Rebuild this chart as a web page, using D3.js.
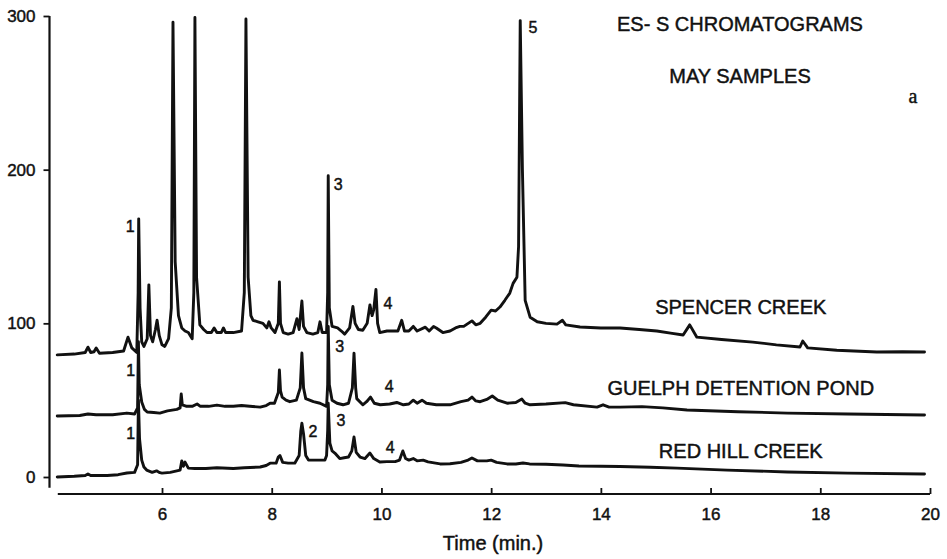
<!DOCTYPE html>
<html>
<head>
<meta charset="utf-8">
<script src="https://cdn.jsdelivr.net/npm/d3@7"></script>
<style>
  body { margin: 0; background: #fff; }
  svg { display: block; }
  text { font-family: "Liberation Sans", Arial, Helvetica, sans-serif; fill: #111; stroke: #111; stroke-width: 0.45px; }
</style>
</head>
<body>
<svg id="chart" width="947" height="559"></svg>
<script>
// [time (min), signal]
var spencerCreek = [
  [4.09,79.5],[4.4,80],[4.6,81],[4.65,84.5],[4.7,81],[4.76,81.5],[4.8,84],[4.86,80.5],[5.1,81],[5.3,82],
  [5.38,91],[5.45,84],[5.54,81],[5.565,120],[5.575,168],[5.6,110],[5.63,88],[5.67,85],[5.73,90],[5.76,125],
  [5.79,92],[5.83,88],[5.88,96],[5.91,102],[5.95,92],[6.0,86],[6.05,85],[6.12,90],[6.17,110],[6.2,296],
  [6.24,140],[6.3,105],[6.36,97],[6.42,95],[6.48,94],[6.55,90],[6.58,120],[6.6,299],[6.63,130],[6.69,99],
  [6.76,96],[6.82,94],[6.9,94],[6.95,97],[7.0,94],[7.08,94],[7.12,97],[7.16,94],[7.3,94],[7.45,95],
  [7.5,120],[7.53,298],[7.57,130],[7.62,105],[7.66,102],[7.75,101],[7.84,100],[7.91,97],[7.95,101],[7.99,97],
  [8.06,94],[8.12,100],[8.14,127],[8.16,100],[8.21,94],[8.3,93],[8.39,94],[8.46,103],[8.5,96],[8.55,114.5],
  [8.58,98],[8.64,94],[8.75,93],[8.84,94],[8.88,101],[8.92,94],[9.0,94],[9.02,120],[9.03,196],[9.05,110],
  [9.1,98],[9.2,97],[9.27,95],[9.33,93],[9.42,97],[9.48,111],[9.52,100],[9.58,96],[9.66,95.5],[9.74,100],
  [9.79,112],[9.83,105],[9.86,109],[9.9,122],[9.93,100],[9.97,94],[10.1,95],[10.16,95],[10.3,95],[10.37,102],
  [10.42,95],[10.5,95],[10.58,98],[10.65,95],[10.8,97.5],[10.87,95],[10.95,98],[11.0,97],[11.12,94],[11.25,95],
  [11.35,97],[11.43,98],[11.5,98],[11.65,101.6],[11.72,99],[11.8,100],[11.9,104],[12.0,108.6],[12.08,108],[12.16,110.6],
  [12.25,115],[12.34,119.7],[12.4,126],[12.47,130],[12.5,150],[12.53,297],[12.57,200],[12.62,115],[12.71,104],[12.84,101],
  [13.0,100],[13.2,99.5],[13.3,102],[13.36,99],[13.62,97.6],[14.0,97],[14.35,97],[14.7,96],[15.02,95],[15.3,93.5],
  [15.5,92.4],[15.62,99],[15.75,91],[16.2,89.5],[16.77,87.8],[17.2,86],[17.63,84.6],[17.68,88.5],[17.77,84],[18.3,82.5],
  [19.03,81.3],[19.5,81.5],[19.9,81.3]
];

var guelphPond = [
  [4.09,39.7],[4.5,40],[4.65,41],[4.8,40.5],[5.1,40.5],[5.36,41.6],[5.5,41],[5.555,45],[5.57,88],[5.585,60],
  [5.63,48.8],[5.68,44],[5.73,42.3],[5.85,42],[5.96,41.6],[6.1,43],[6.27,44],[6.33,45],[6.35,54],[6.37,47],
  [6.45,46],[6.55,46],[6.64,47.5],[6.7,46],[6.85,46],[7.0,46.8],[7.15,46],[7.3,46],[7.45,46.5],[7.6,46],
  [7.79,45.5],[7.9,46.5],[7.97,48],[8.05,48],[8.12,55],[8.14,69.6],[8.16,56],[8.19,52],[8.26,50],[8.33,49],
  [8.45,50],[8.52,58],[8.55,80.7],[8.58,58],[8.62,51],[8.76,49],[8.88,48],[9.0,46],[9.02,60],[9.03,98],
  [9.05,60],[9.1,50],[9.19,48],[9.3,47],[9.4,48],[9.47,58],[9.5,80.6],[9.53,58],[9.55,51],[9.66,47],
  [9.73,49],[9.8,52],[9.87,48],[9.98,47],[10.15,47.5],[10.28,48.5],[10.4,47],[10.5,47.5],[10.58,50],[10.65,48],
  [10.74,50],[10.82,48],[11.0,47],[11.25,47],[11.45,49],[11.58,50],[11.65,52],[11.72,49.5],[11.8,49],[11.92,50.5],
  [12.02,52.7],[12.12,50],[12.29,48],[12.45,48.5],[12.56,50.7],[12.62,48],[12.71,47],[13.0,47.5],[13.35,48.4],[13.5,47],
  [13.93,45.5],[14.04,47],[14.15,45.5],[14.35,45.5],[14.75,45.8],[15.13,45],[15.57,43.6],[16.5,42.5],[17.4,41.6],[18.5,41],
  [19.9,40.3]
];

var redHillCreek = [
  [4.09,0],[4.4,0.5],[4.6,1],[4.65,2],[4.7,1],[5.0,1],[5.2,1.5],[5.36,2.6],[5.5,3],[5.555,8],
  [5.57,50],[5.59,25],[5.63,11],[5.67,6.5],[5.72,4.5],[5.82,3],[5.9,4],[5.96,2.8],[6.0,2.5],[6.15,3],
  [6.33,4.5],[6.36,10.4],[6.39,7],[6.42,9.7],[6.48,5.8],[6.6,5.5],[6.8,5.5],[7.0,6],[7.3,5.5],[7.5,6],
  [7.79,6.5],[7.9,7.5],[7.97,9],[8.08,9],[8.12,13],[8.15,14],[8.2,9.5],[8.3,9],[8.42,9],[8.5,14],
  [8.53,30],[8.55,35],[8.58,28],[8.62,14],[8.67,11],[8.8,11],[8.97,11],[9.0,14],[9.02,30],[9.03,48],
  [9.06,22],[9.1,17],[9.15,15.6],[9.24,12],[9.32,12.5],[9.4,13],[9.46,17],[9.5,26],[9.54,16],[9.61,13],
  [9.7,12],[9.79,15.6],[9.86,12],[9.97,9.8],[10.1,10],[10.25,10],[10.33,11],[10.39,17],[10.44,12],[10.5,11],
  [10.58,12],[10.65,10.5],[10.76,11],[10.85,9.8],[11.07,8.5],[11.25,8.6],[11.45,9.5],[11.58,11],[11.65,12.4],[11.75,10.5],
  [11.92,10.5],[12.0,11],[12.1,9.5],[12.29,8.5],[12.45,8.5],[12.58,9.1],[12.7,8.5],[13.0,8.3],[13.31,7.8],[13.6,7.2],
  [14.0,7],[14.35,6.8],[14.9,6.3],[15.39,5.8],[16.3,4.5],[17.4,3.3],[18.5,2.5],[19.9,2]
];

var seriesNames = ['SPENCER CREEK', 'GUELPH DETENTION POND', 'RED HILL CREEK'];
var seriesLabelAt = [[16.55, 110.6], [16.55, 58], [16.55, 17]];

// peak numbers: [label, time, signal]
var peakLabels = [
  ['1', 5.42, 163], ['1', 5.43, 69.6], ['1', 5.43, 28.6], ['2', 8.75, 29.3],
  ['3', 9.21, 190.6], ['3', 9.24, 84.6], ['3', 9.26, 37],
  ['4', 10.12, 113], ['4', 10.14, 58.6], ['4', 10.16, 19.5], ['5', 12.76, 292.8]
];

var xMajor = [6, 8, 10, 12, 14, 16, 18, 20];
var xMinor = d3.range(4.5, 20, 0.5);
var yMajor = [0, 100, 200, 300];
var yMinor = d3.range(0, 301, 20);

var svg = d3.select('#chart');

var x = d3.scaleLinear().domain([4, 20]).range([52.3, 930]);
var y = d3.scaleLinear().domain([0, 300]).range([477, 16]);

// x axis: ticks point up from a detached baseline
var xg = svg.append('g').attr('transform', 'translate(0,494)');
xg.call(d3.axisBottom(x).tickValues(xMinor).tickSize(-4).tickFormat(''));
xg.call(d3.axisBottom(x).tickValues(xMajor).tickSize(-6).tickPadding(14).tickFormat(d3.format('d')));
xg.selectAll('.domain').remove();
xg.append('line')
  .attr('x1', x(4.1)).attr('x2', x(20))
  .attr('stroke', '#111').attr('stroke-width', 2.2);
xg.selectAll('.tick line').attr('stroke', '#111').attr('stroke-width', 1.8);
xg.selectAll('.tick text').style('font-size', '17px').attr('fill', '#111');

// y axis
var yg = svg.append('g').attr('transform', 'translate(49.5,0)');
yg.call(d3.axisLeft(y).tickValues(yMinor).tickSize(5).tickFormat(''));
yg.call(d3.axisLeft(y).tickValues(yMajor).tickSize(6).tickPadding(8).tickFormat(d3.format('d')));
yg.selectAll('.domain').remove();
yg.append('line')
  .attr('y1', y(300)).attr('y2', y(-7))
  .attr('stroke', '#111').attr('stroke-width', 2.2);
yg.selectAll('.tick line').attr('stroke', '#111').attr('stroke-width', 1.8);
yg.selectAll('.tick text').style('font-size', '17px').attr('fill', '#111');

// traces
var line = d3.line()
  .x(function (d) { return x(d[0]); })
  .y(function (d) { return y(d[1]); });

svg.selectAll('path.trace')
  .data([spencerCreek, guelphPond, redHillCreek])
  .enter().append('path')
  .attr('class', 'trace')
  .attr('d', line)
  .attr('fill', 'none')
  .attr('stroke', '#111')
  .attr('stroke-width', 2.9)
  .attr('stroke-linejoin', 'round')
  .attr('stroke-linecap', 'round');

svg.selectAll('text.series')
  .data(seriesNames)
  .enter().append('text')
  .attr('class', 'series')
  .attr('x', function (d, i) { return x(seriesLabelAt[i][0]); })
  .attr('y', function (d, i) { return y(seriesLabelAt[i][1]); })
  .attr('text-anchor', 'middle')
  .attr('dominant-baseline', 'central')
  .style('font-size', '20px')
  .text(function (d) { return d; });

svg.selectAll('text.peak')
  .data(peakLabels)
  .enter().append('text')
  .attr('class', 'peak')
  .attr('x', function (d) { return x(d[1]); })
  .attr('y', function (d) { return y(d[2]); })
  .attr('text-anchor', 'middle')
  .attr('dominant-baseline', 'central')
  .style('font-size', '16px')
  .text(function (d) { return d[0]; });

// titles
svg.append('text')
  .attr('x', 740).attr('y', 24)
  .attr('text-anchor', 'middle').attr('dominant-baseline', 'central')
  .style('font-size', '20px')
  .text('ES- S CHROMATOGRAMS');

svg.append('text')
  .attr('x', 740).attr('y', 76)
  .attr('text-anchor', 'middle').attr('dominant-baseline', 'central')
  .style('font-size', '20px')
  .text('MAY SAMPLES');

svg.append('text')
  .attr('x', 913).attr('y', 103)
  .attr('text-anchor', 'middle')
  .style('font-family', '"Liberation Serif", "DejaVu Serif", serif')
  .style('font-size', '20px')
  .text('a');

svg.append('text')
  .attr('x', 493).attr('y', 543)
  .attr('text-anchor', 'middle').attr('dominant-baseline', 'central')
  .style('font-size', '20px')
  .text('Time (min.)');
</script>
</body>
</html>
